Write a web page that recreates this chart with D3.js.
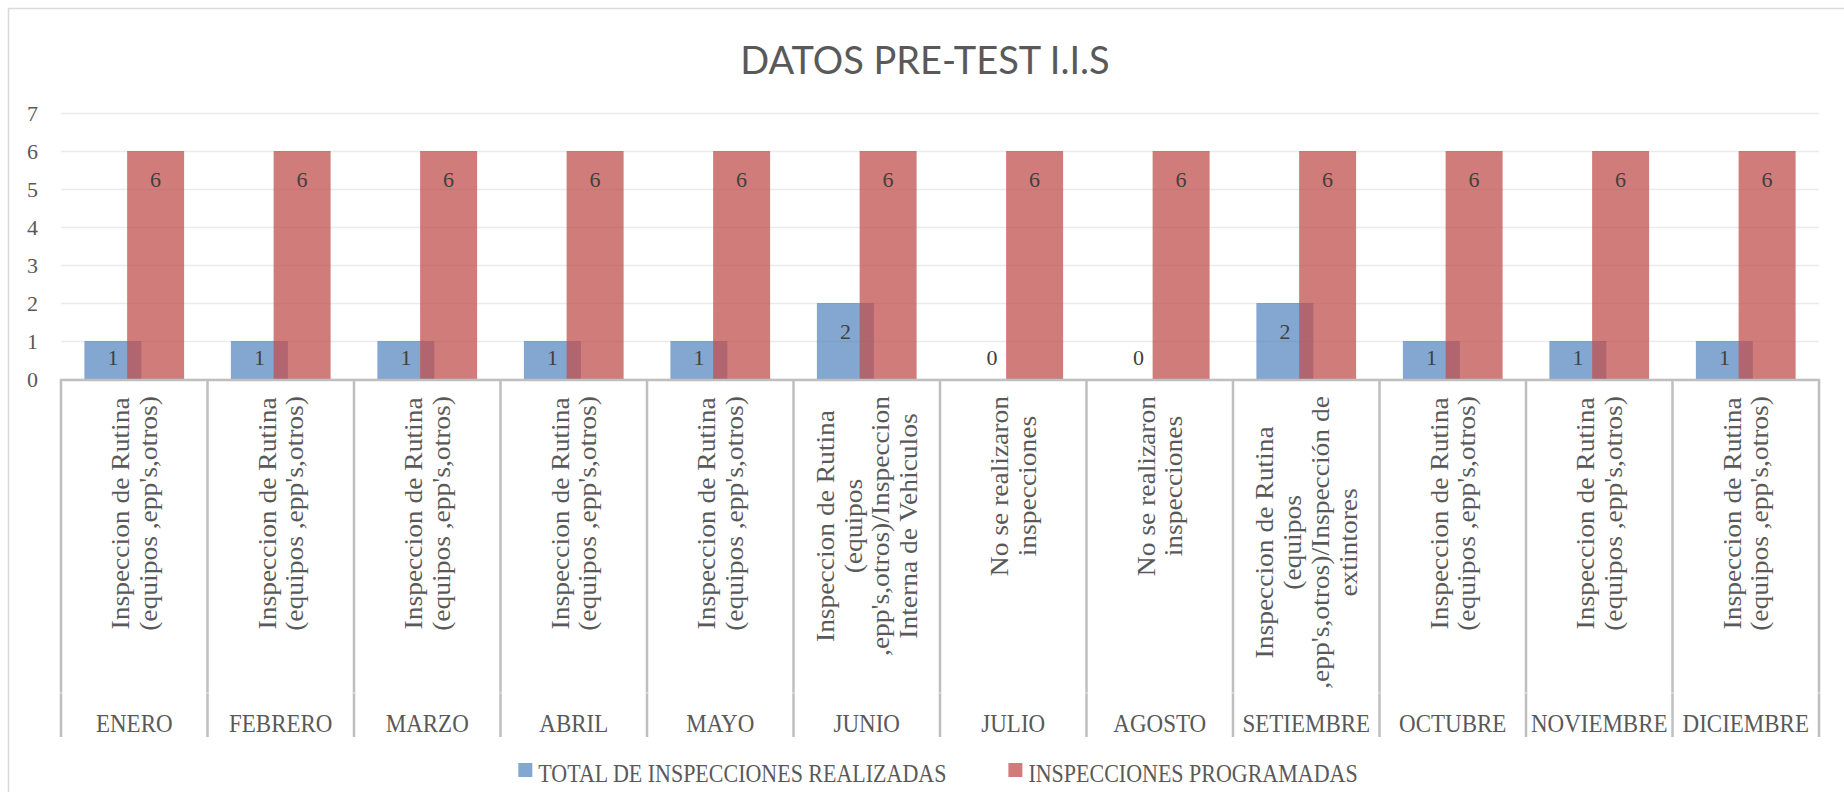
<!DOCTYPE html>
<html>
<head>
<meta charset="utf-8">
<script src="https://cdn.jsdelivr.net/npm/d3@7"></script>
<style>
  body { margin: 0; background: #fff; }
  svg text { font-family: "Liberation Serif", serif; fill: #595959; }
</style>
</head>
<body>
<div id="chart"></div>
<script>
const months = ['ENERO', 'FEBRERO', 'MARZO', 'ABRIL', 'MAYO', 'JUNIO',
                'JULIO', 'AGOSTO', 'SETIEMBRE', 'OCTUBRE', 'NOVIEMBRE', 'DICIEMBRE']

const rutina = ['Inspeccion de Rutina', "(equipos ,epp's,otros)"]
const ninguna = ['No se realizaron', 'inspecciones']
const detalle = [
  rutina, rutina, rutina, rutina, rutina,
  ['Inspeccion de Rutina', '(equipos', ",epp's,otros)/Inspeccion", 'Interna de Vehiculos'],
  ninguna, ninguna,
  ['Inspeccion de Rutina', '(equipos', ",epp's,otros)/Inspección de", 'extintores'],
  rutina, rutina, rutina
]

const realizadas  = [1, 1, 1, 1, 1, 2, 0, 0, 2, 1, 1, 1]
const programadas = [6, 6, 6, 6, 6, 6, 6, 6, 6, 6, 6, 6]

const seriesNames = ['TOTAL DE INSPECCIONES REALIZADAS', 'INSPECCIONES PROGRAMADAS']
const yTicks = [0, 1, 2, 3, 4, 5, 6, 7]

const width = 1844, height = 792
const plotLeft = 61, plotRight = 1819, plotTop = 113, plotBase = 379

const blue = '#4f81bd', red = '#c0504d'

const svg = d3.select('#chart').append('svg')
  .attr('width', width)
  .attr('height', height)

// chart border
svg.append('rect')
  .attr('x', 8.5).attr('y', 8.5)
  .attr('width', width).attr('height', height)
  .attr('fill', 'none').attr('stroke', '#d9d9d9').attr('stroke-width', 1.5)

const x = d3.scaleBand().domain(months).range([plotLeft, plotRight])
const y = d3.scaleLinear().domain([0, 7]).range([plotBase, plotTop])

const barW = x.bandwidth() * 0.389
const step = barW * 0.75
const offset = (x.bandwidth() - barW - step) / 2

// gridlines
const grid = svg.append('g')
  .attr('transform', 'translate(' + plotLeft + ', 0)')
  .call(d3.axisLeft(y).tickValues(yTicks).tickSize(-(plotRight - plotLeft)).tickFormat(''))
grid.select('.domain').remove()
grid.selectAll('line').attr('stroke', '#ebebeb').attr('stroke-width', 1.5)

// y labels
const yAxis = svg.append('g')
  .attr('transform', 'translate(' + plotLeft + ', 0)')
  .call(d3.axisLeft(y).tickValues(yTicks).tickSize(0).tickPadding(23).tickFormat(d3.format('d')))
yAxis.select('.domain').remove()
yAxis.selectAll('text')
  .style('font-family', '"Liberation Serif", serif')
  .style('font-size', '22px')
  .attr('fill', '#595959')

// bars
const bars = svg.append('g')
bars.selectAll('rect.real')
  .data(months).enter()
  .append('rect').classed('real', true)
  .attr('x', (d, i) => x(d) + offset)
  .attr('y', (d, i) => y(realizadas[i]))
  .attr('width', barW)
  .attr('height', (d, i) => y(0) - y(realizadas[i]))
  .attr('fill', blue).attr('fill-opacity', 0.7)

bars.selectAll('rect.prog')
  .data(months).enter()
  .append('rect').classed('prog', true)
  .attr('x', (d, i) => x(d) + offset + step)
  .attr('y', (d, i) => y(programadas[i]))
  .attr('width', barW)
  .attr('height', (d, i) => y(0) - y(programadas[i]))
  .attr('fill', red).attr('fill-opacity', 0.75)

// data labels (inside end, kept above the axis)
const labelY = v => Math.min(y(v) + 28, plotBase - 22)
const labels = svg.append('g').style('font-size', '22px')
labels.selectAll('text.real')
  .data(months).enter()
  .append('text').classed('real', true)
  .attr('x', (d, i) => x(d) + offset + barW / 2)
  .attr('y', (d, i) => labelY(realizadas[i]))
  .attr('dy', '0.35em')
  .attr('text-anchor', 'middle')
  .style('fill', '#404040')
  .text((d, i) => realizadas[i])
labels.selectAll('text.prog')
  .data(months).enter()
  .append('text').classed('prog', true)
  .attr('x', (d, i) => x(d) + offset + step + barW / 2)
  .attr('y', (d, i) => labelY(programadas[i]))
  .attr('dy', '0.35em')
  .attr('text-anchor', 'middle')
  .style('fill', '#404040')
  .text((d, i) => programadas[i])

// category axis (two levels)
const axisG = svg.append('g')
const bounds = months.map(m => x(m)).concat([plotRight])
axisG.selectAll('line.sep')
  .data(bounds).enter()
  .append('line').classed('sep', true)
  .attr('x1', d => d).attr('x2', d => d)
  .attr('y1', plotBase).attr('y2', 737)
  .attr('stroke', '#bfbfbf').attr('stroke-width', 2.5)
axisG.append('line')
  .attr('x1', plotLeft - 1).attr('x2', plotRight + 1)
  .attr('y1', plotBase + 1).attr('y2', plotBase + 1)
  .attr('stroke', '#bfbfbf').attr('stroke-width', 2.5)
axisG.selectAll('line.div')
  .data(bounds).enter()
  .append('line').classed('div', true)
  .attr('x1', d => d).attr('x2', d => d)
  .attr('y1', 692.5).attr('y2', 693.5)
  .attr('stroke', '#e4e4e4').attr('stroke-width', 3)

const lineGap = 27.7
const detailTop = 396
const stretch = 1.1
const cats = axisG.selectAll('g.cat')
  .data(months).enter()
  .append('g').classed('cat', true)

cats.each(function (m, i) {
  const g = d3.select(this)
  const lines = detalle[i]
  const cx = x(m) + x.bandwidth() / 2
  const texts = g.selectAll('text.det')
    .data(lines).enter()
    .append('text').classed('det', true)
    .attr('text-anchor', 'middle')
    .attr('dy', '0.35em')
    .style('font-size', '25px')
    .text(d => d)
  const maxLen = d3.max(texts.nodes(), n => n.getComputedTextLength()) * stretch
  const cy = detailTop + maxLen / 2
  texts.attr('transform', (d, j) =>
    'translate(' + (cx + (j - (lines.length - 1) / 2) * lineGap) + ', ' + cy + ') rotate(-90) scale(' + stretch + ', 1)')

  g.append('text')
    .attr('transform', 'translate(' + cx + ', 732) scale(1, 1.1)')
    .attr('text-anchor', 'middle')
    .style('font-size', '23px')
    .text(m)
})

// title
svg.append('text')
  .attr('x', 925).attr('y', 74)
  .attr('text-anchor', 'middle')
  .style('font-family', 'Lato, "Open Sans", sans-serif')
  .style('font-size', '38px')
  .style('font-weight', 400)
  .text('DATOS PRE-TEST I.I.S')

// legend
const legend = svg.append('g')
const items = legend.selectAll('g.item')
  .data(seriesNames).enter()
  .append('g').classed('item', true)
items.append('rect')
  .attr('width', 14).attr('height', 14)
  .attr('y', 763)
  .attr('fill', (d, i) => i === 0 ? blue : red)
  .attr('fill-opacity', (d, i) => i === 0 ? 0.7 : 0.75)
items.append('text')
  .attr('transform', 'translate(20, 782) scale(1, 1.12)')
  .style('font-size', '22px')
  .text(d => d)
let lx = 0
const itemX = []
items.each(function () {
  itemX.push(lx)
  lx += this.getBBox().width + 62
})
const legendStart = 938 - (lx - 62) / 2
items.attr('transform', (d, i) => 'translate(' + (legendStart + itemX[i]) + ', 0)')
</script>
</body>
</html>
